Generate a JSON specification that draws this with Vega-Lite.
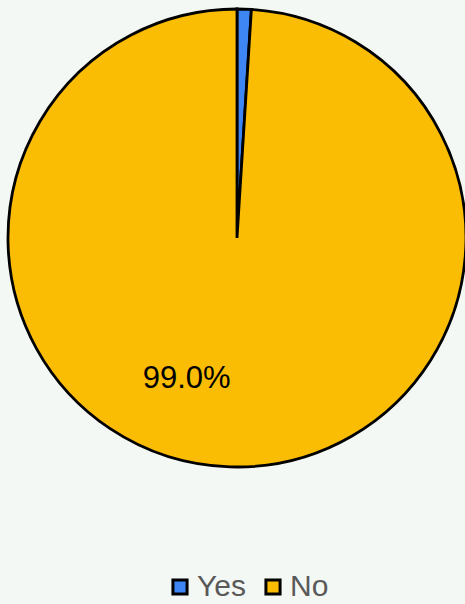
{
  "$schema": "https://vega.github.io/schema/vega-lite/v6.json",
  "width": 456,
  "height": 476,
  "autosize": {"type": "none"},
  "padding": {"left": 9, "top": 0, "right": 0, "bottom": 128},
  "background": "#f4f8f5",
  "data": {"values": [
    {"answer": "Yes", "share": 1.0, "ord": 1, "label": ""},
    {"answer": "No", "share": 99.0, "ord": 2, "label": "99.0%"}
  ]},
  "encoding": {
    "theta": {"field": "share", "type": "quantitative", "stack": true},
    "order": {"field": "ord", "type": "quantitative"},
    "color": {
      "field": "answer", "type": "nominal",
      "scale": {"domain": ["Yes", "No"], "range": ["#3f86f5", "#fbbc04"]},
      "legend": {
        "title": null, "orient": "none", "direction": "horizontal",
        "legendX": 156, "legendY": 572,
        "symbolType": "square", "symbolSize": 200,
        "symbolStrokeColor": "#000000", "symbolStrokeWidth": 3,
        "symbolOpacity": 1,
        "labelFont": "Liberation Sans", "labelFontSize": 30, "labelColor": "#595959",
        "labelOffset": 2, "columnPadding": 12
      }
    }
  },
  "layer": [
    {"mark": {"type": "arc", "outerRadius": 229, "stroke": "#000000", "strokeWidth": 2.8}},
    {"mark": {"type": "text", "radius": 140, "dx": -46, "dy": 1, "font": "Liberation Sans", "fontSize": 31, "color": "#000000"},
     "encoding": {"text": {"field": "label"}, "color": {"value": "#000000"}}}
  ],
  "config": {"view": {"stroke": null}}
}
